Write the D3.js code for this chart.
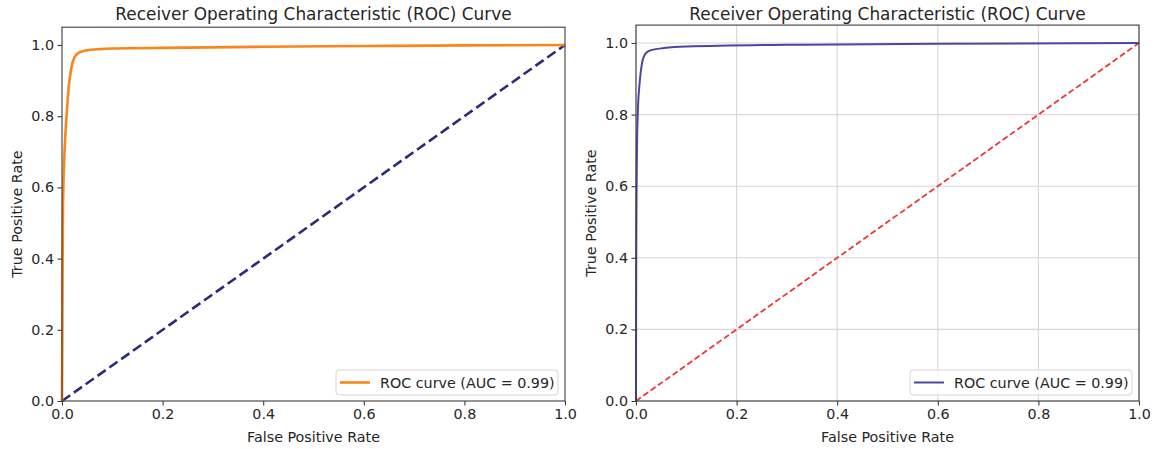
<!DOCTYPE html>
<html>
<head>
<meta charset="utf-8">
<script src="https://cdn.jsdelivr.net/npm/d3@7"></script>
<style>
  html, body { margin: 0; padding: 0; background: #fff; }
  text { font-family: "DejaVu Sans", sans-serif; fill: #262626; }
</style>
</head>
<body>
<svg id="chart" width="1155" height="449"></svg>
<script>
// ---- data ----
const ticks = [0, 0.2, 0.4, 0.6, 0.8, 1.0];
const tickLabels = ["0.0", "0.2", "0.4", "0.6", "0.8", "1.0"];

const leftFpr = [0, 0.001, 0.002, 0.003, 0.005, 0.008, 0.011, 0.014, 0.018, 0.022, 0.027, 0.033, 0.045, 0.07, 0.1, 0.2, 0.4, 0.6, 0.8, 1.0];
const leftTpr = [0, 0.30, 0.55, 0.62, 0.70, 0.78, 0.84, 0.89, 0.93, 0.955, 0.970, 0.978, 0.984, 0.988, 0.990, 0.992, 0.995, 0.997, 0.999, 1.0];

const rightFpr = [0, 0.0003, 0.0008, 0.0015, 0.003, 0.005, 0.008, 0.011, 0.015, 0.02, 0.03, 0.05, 0.1, 0.3, 0.6, 1.0];
const rightTpr = [0, 0.30, 0.50, 0.65, 0.78, 0.85, 0.90, 0.935, 0.96, 0.972, 0.98, 0.985, 0.990, 0.995, 0.998, 1.0];

const diagX = [0, 1];
const diagY = [0, 1];

const title = "Receiver Operating Characteristic (ROC) Curve";
const xLabel = "False Positive Rate";
const yLabel = "True Positive Rate";
const legendLabel = "ROC curve (AUC = 0.99)";

// ---- drawing ----
const svg = d3.select("#chart");
const FS = 14.3;

function panel(opt) {
  const g = svg.append("g");
  const x = d3.scaleLinear().domain([0, 1]).range([opt.x0, opt.x1]);
  const y = d3.scaleLinear().domain([0, 1.05]).range([opt.y0, opt.y0 - (opt.y0 - opt.y1) * 1.05]);
  const top = y(1.05);

  if (opt.grid) {
    const gg = g.append("g");
    gg.selectAll("line.gx").data(ticks).join("line")
      .attr("x1", d => x(d)).attr("x2", d => x(d))
      .attr("y1", top).attr("y2", opt.y0)
      .attr("stroke", "#ddd5d5").attr("stroke-width", 1.1);
    gg.selectAll("line.gy").data(ticks).join("line")
      .attr("y1", d => y(d)).attr("y2", d => y(d))
      .attr("x1", opt.x0).attr("x2", opt.x1)
      .attr("stroke", "#ddd5d5").attr("stroke-width", 1.1);
  }

  // diagonal
  const diag = diagX.map((d, i) => [d, diagY[i]]);
  g.append("path").datum(diag)
    .attr("d", d3.line().x(d => x(d[0])).y(d => y(d[1])))
    .attr("fill", "none").attr("stroke", opt.diagColor)
    .attr("stroke-width", opt.diagWidth).attr("stroke-dasharray", opt.dash);

  // roc curve
  const pts = opt.fpr.map((d, i) => [d, opt.tpr[i]]);
  g.append("path").datum(pts)
    .attr("d", d3.line().x(d => x(d[0])).y(d => y(d[1])).curve(d3.curveMonotoneY))
    .attr("fill", "none").attr("stroke", opt.color)
    .attr("stroke-width", opt.width).attr("stroke-linejoin", "round");

  // spines
  g.append("rect").attr("x", opt.x0).attr("y", top)
    .attr("width", opt.x1 - opt.x0).attr("height", opt.y0 - top)
    .attr("fill", "none").attr("stroke", "#3c3c3c").attr("stroke-width", 1.1);

  // axes
  const xa = d3.axisBottom(x).tickValues(ticks).tickFormat((d, i) => tickLabels[i]).tickSize(4.5).tickPadding(3.5);
  const ya = d3.axisLeft(y).tickValues(ticks).tickFormat((d, i) => tickLabels[i]).tickSize(4.5).tickPadding(3.5);
  const gx = g.append("g").attr("transform", `translate(0,${opt.y0})`).call(xa);
  const gy = g.append("g").attr("transform", `translate(${opt.x0},0)`).call(ya);
  [gx, gy].forEach(a => {
    a.select(".domain").remove();
    a.selectAll(".tick line").attr("stroke", "#3c3c3c").attr("stroke-width", 1.1);
    a.selectAll(".tick text").attr("font-family", "DejaVu Sans").attr("font-size", FS).attr("fill", "#262626");
  });

  // title + labels
  const cx = (opt.x0 + opt.x1) / 2;
  g.append("text").attr("x", cx).attr("y", 20).attr("text-anchor", "middle")
    .attr("font-size", 16.9).text(title);
  g.append("text").attr("x", cx).attr("y", 442).attr("text-anchor", "middle")
    .attr("font-size", FS).text(xLabel);
  g.append("text").attr("transform", `translate(${opt.x0 - 40},${(opt.y0 + top) / 2}) rotate(-90)`)
    .attr("text-anchor", "middle").attr("font-size", FS).text(yLabel);

  // legend
  const lg = g.append("g");
  lg.append("rect").attr("x", opt.legX).attr("y", 370).attr("width", 222).attr("height", 25)
    .attr("rx", 3).attr("fill", "#fff").attr("fill-opacity", 0.85)
    .attr("stroke", "#d5d5d5").attr("stroke-width", 1);
  lg.append("line").attr("x1", opt.legX + 4).attr("x2", opt.legX + 34)
    .attr("y1", 382.5).attr("y2", 382.5).attr("stroke", opt.color).attr("stroke-width", opt.width);
  lg.append("text").attr("x", opt.legX + 44).attr("y", 387.5).attr("font-size", FS).text(legendLabel);
}

panel({
  x0: 62, x1: 565, y0: 401, y1: 45,
  fpr: leftFpr, tpr: leftTpr, color: "#fb8518", width: 2.6,
  diagColor: "#2b2a7c", diagWidth: 2.6, dash: "10,4.5",
  grid: false, legX: 336
});

panel({
  x0: 636, x1: 1139, y0: 401, y1: 43,
  fpr: rightFpr, tpr: rightTpr, color: "#4a46a6", width: 2,
  diagColor: "#ef3535", diagWidth: 1.8, dash: "6,3",
  grid: true, legX: 910
});
</script>
</body>
</html>
